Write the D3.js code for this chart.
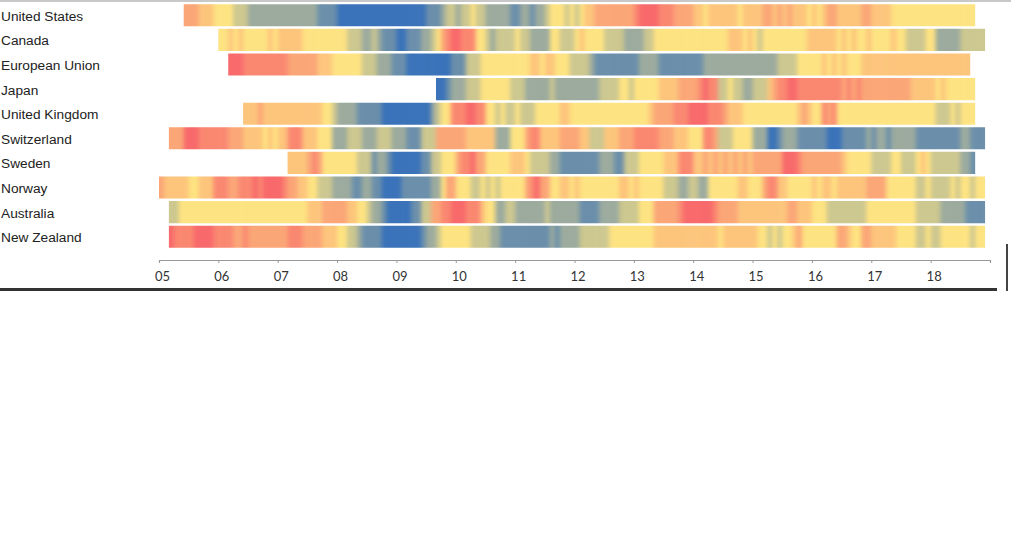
<!DOCTYPE html>
<html>
<head>
<meta charset="utf-8">
<title>Monthly strips by country</title>
<script src="https://d3js.org/d3.v7.min.js"></script>
<style>
  body { margin: 0; background: #fff; }
  svg { display: block; }
</style>
</head>
<body>
<script>
// one strip per country
var countries = ["United States", "Canada", "European Union", "Japan", "United Kingdom",
                 "Switzerland", "Sweden", "Norway", "Australia", "New Zealand"];

// first month of each strip, counted from Jan 2005
var startMonth = [5, 12, 14, 56, 17, 2, 26, 0, 2, 2];

// monthly level, 0 = red, 4 = yellow, 8 = blue (groups are calendar years)
var levels = [
  "2223334 444555666666 666666667777 888888888888 888888777655 655455666667 766766544454 543322222222 100001112222 334333333433 332232323334 343223333322 333344444444 444444444",
  "443434444434 333334444444 445556656777 887776654210 011144565555 455666644555 434444555566 665544444444 444444433343 454444444443 333334343443 444434455554 46666655555",
  "0001111111 112222223334 444445556667 778888888887 775554444444 444334334445 555677777777 766667777777 776666666666 666665555444 443434344433 333333333333 33333333",
  "8876 665554444445 556666656666 666665555445 444443333222 210115545566 555321100111 111111212122 222222223333 343444444",
  "3332333 333333333445 666677777888 888888865441 110011445455 455544444334 444444444444 444322221110 000111233344 444444444323 441214444444 444444444444 455545444",
  "2220001111 112223333434 331113334446 665556665556 667775552222 223333336664 442113333222 233555333222 111112223334 441125554444 666887666777 777888777776 766766666777 77777766777",
  "3333212444 444455576678 888887755444 211022444443 334555566777 777776667755 544444333111 332323232323 222222000122 222222344444 555544555434 555555667",
  "233333443331 112211101000 012233445556 666776677888 877777766422 444554545444 442102244334 344444444334 344444555665 566444444334 442113344444 343343333332 222444444554 55554544544",
  "5544444444 444444444444 444444333222 223344566788 888775522110 001113446655 666666566666 677776666555 544422222100 000012222333 333333322333 444555555554 444444444555 55666667777",
  "0111100001 111221222222 221112222333 445567777888 888887665444 444555566777 777777767666 655555544444 444433333333 333334333333 344545443244 444442234422 333334444554 55444444544"
];

// year ticks, every 12 months
var tickLabels = ["05", "06", "07", "08", "09", "10", "11", "12", "13", "14", "15", "16", "17", "18", ""];

var svg = d3.select("body").append("svg")
            .attr("width", 1011)
            .attr("height", 538);

var x = d3.scaleLinear().domain([0, 168]).range([159, 990]);
var y = d3.scaleBand().domain(countries).range([3, 249])
          .paddingInner(0.1).paddingOuter(0.05);
var color = d3.scaleLinear().domain([0, 4, 8])
              .range(["#f8696b", "#fee382", "#3a73b9"]);

var defs = svg.append("defs");
defs.append("filter").attr("id", "soft")
    .attr("x", "-5%").attr("y", "-20%").attr("width", "110%").attr("height", "140%")
    .attr("color-interpolation-filters", "sRGB")
    .append("feGaussianBlur").attr("stdDeviation", "2.2 0.01");

var cellW = x(1) - x(0);

countries.forEach(function(c, i) {
  var vals = levels[i].replace(/ /g, "").split("").map(Number);
  var cells = vals.map(function(v, k) { return {m: startMonth[i] + k, v: v, first: k == 0, last: k == vals.length - 1}; });

  defs.append("clipPath").attr("id", "clip" + i)
      .append("rect")
      .attr("x", x(startMonth[i]))
      .attr("width", x(startMonth[i] + vals.length) - x(startMonth[i]))
      .attr("y", y(c))
      .attr("height", y.bandwidth());

  var g = svg.append("g").attr("clip-path", "url(#clip" + i + ")")
             .append("g").attr("filter", "url(#soft)");

  // end cells are stretched a little so the blur does not fade the strip ends
  g.selectAll("rect")
   .data(cells)
   .enter()
   .append("rect")
   .attr("x", function(d) { return x(d.m) - (d.first ? 8 : 0); })
   .attr("y", y(c) - 3)
   .attr("width", function(d) { return cellW + 0.6 + (d.first ? 8 : 0) + (d.last ? 8 : 0); })
   .attr("height", y.bandwidth() + 6)
   .attr("fill", function(d) { return color(d.v); });
});

// country names
svg.selectAll("text.country")
   .data(countries)
   .enter()
   .append("text")
   .attr("class", "country")
   .attr("x", 1)
   .attr("y", function(d) { return y(d) + y.bandwidth() / 2 + 1; })
   .attr("dominant-baseline", "central")
   .attr("font-family", "'Liberation Sans', Arial, sans-serif")
   .attr("font-size", 13.7)
   .attr("fill", "#222")
   .text(function(d) { return d; });

// year axis
var axis = d3.axisBottom(x)
             .tickValues(d3.range(0, 169, 12))
             .tickSize(3)
             .tickPadding(9)
             .tickFormat(function(d, i) { return tickLabels[i]; });

var ax = svg.append("g").attr("transform", "translate(0,260)").call(axis);
ax.select(".domain").attr("stroke", "#999").attr("stroke-width", 1.2);
ax.selectAll(".tick line").attr("stroke", "#999");
ax.selectAll(".tick text")
  .attr("dx", 3)
  .attr("fill", "#333")
  .attr("font-family", "Lato, 'Open Sans', sans-serif")
  .attr("font-size", 13);

// frame lines of the original snapshot
svg.append("line").attr("x1", 0).attr("x2", 1011).attr("y1", 1).attr("y2", 1)
   .attr("stroke", "#c8c8c8").attr("stroke-width", 2);
svg.append("line").attr("x1", 0).attr("x2", 997).attr("y1", 289.5).attr("y2", 289.5)
   .attr("stroke", "#333").attr("stroke-width", 3);
svg.append("line").attr("x1", 1007).attr("x2", 1007).attr("y1", 244).attr("y2", 291)
   .attr("stroke", "#444").attr("stroke-width", 2);
</script>
</body>
</html>
